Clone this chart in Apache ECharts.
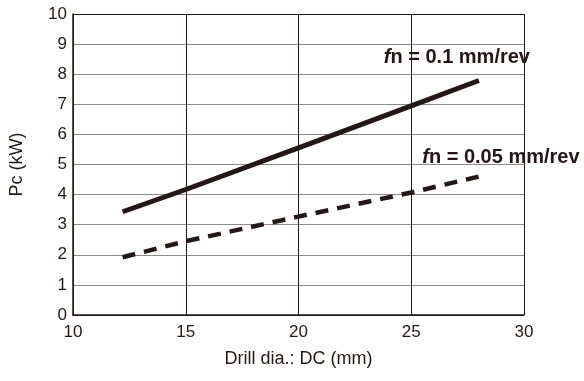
<!DOCTYPE html>
<html>
<head>
<meta charset="utf-8">
<script src="https://cdn.jsdelivr.net/npm/echarts@6/dist/echarts.min.js"></script>
<style>
  html, body { margin: 0; padding: 0; background: #fff; }
  #chart { width: 584px; height: 381px; }
</style>
</head>
<body>
<div id="chart"></div>
<script>
  // drill diameter (mm) and cutting power Pc (kW)
  const drillDia = [12.2, 15, 20, 25, 28];
  const pcFeed01 = [3.43, 4.17, 5.55, 6.95, 7.79];
  const pcFeed005 = [1.92, 2.45, 3.27, 4.07, 4.6];
  const xTicks = [10, 15, 20, 25, 30];
  const yTicks = [0, 1, 2, 3, 4, 5, 6, 7, 8, 9, 10];

  const ink = '#231815';
  const labelRich = {
    i: { fontStyle: 'italic', fontWeight: 'bold', fontSize: 20, color: ink, fontFamily: 'Liberation Sans' }
  };

  function pairs(ys) {
    return drillDia.map((x, i) => [x, ys[i]]);
  }

  function endTag(x, y, text, offset) {
    return {
      symbol: 'none',
      silent: true,
      data: [{
        coord: [x, y],
        symbol: 'circle',
        symbolSize: 0,
        label: {
          show: true,
          position: 'inside',
          offset: offset,
          formatter: '{i|f}n = ' + text + ' mm/rev',
          fontSize: 20,
          fontWeight: 'bold',
          color: ink,
          fontFamily: 'Liberation Sans',
          rich: labelRich
        }
      }]
    };
  }

  const last = drillDia.length - 1;
  const chart = echarts.init(document.getElementById('chart'));
  chart.setOption({
    animation: false,
    grid: { left: 72, top: 14, right: 60, bottom: 66, show: false },
    xAxis: {
      type: 'value',
      min: xTicks[0],
      max: xTicks[xTicks.length - 1],
      interval: 5,
      name: 'Drill dia.: DC (mm)',
      nameLocation: 'middle',
      nameGap: 35,
      nameTextStyle: { fontSize: 18, color: ink, fontFamily: 'Liberation Sans' },
      axisLine: { show: true, lineStyle: { color: ink, width: 1.5 } },
      axisTick: { show: false },
      axisLabel: { fontSize: 17, color: ink, margin: 9, fontFamily: 'Liberation Sans' },
      splitLine: { show: true, lineStyle: { color: ink, width: 1 } }
    },
    yAxis: {
      type: 'value',
      min: yTicks[0],
      max: yTicks[yTicks.length - 1],
      interval: 1,
      name: 'Pc (kW)',
      nameLocation: 'middle',
      nameGap: 47,
      nameTextStyle: { fontSize: 18, color: ink, fontFamily: 'Liberation Sans' },
      axisLine: { show: true, lineStyle: { color: ink, width: 1.5 } },
      axisTick: { show: false },
      axisLabel: { fontSize: 17, color: ink, margin: 6, fontFamily: 'Liberation Sans' },
      splitLine: {
        show: true,
        lineStyle: {
          color: ['#231815', '#8c8a8a', '#8c8a8a', '#8c8a8a', '#8c8a8a', '#8c8a8a',
                  '#8c8a8a', '#8c8a8a', '#8c8a8a', '#8c8a8a', '#231815'],
          width: 1
        }
      }
    },
    series: [
      {
        type: 'line',
        data: pairs(pcFeed01),
        showSymbol: false,
        symbol: 'none',
        lineStyle: { color: ink, width: 5, cap: 'butt' },
        markPoint: endTag(drillDia[last], pcFeed01[last], '0.1', [-22, -23])
      },
      {
        type: 'line',
        data: pairs(pcFeed005),
        showSymbol: false,
        symbol: 'none',
        lineStyle: { color: ink, width: 4.5, type: [13, 9], cap: 'butt' },
        markPoint: endTag(drillDia[last], pcFeed005[last], '0.05', [22, -19])
      }
    ]
  });
</script>
</body>
</html>
